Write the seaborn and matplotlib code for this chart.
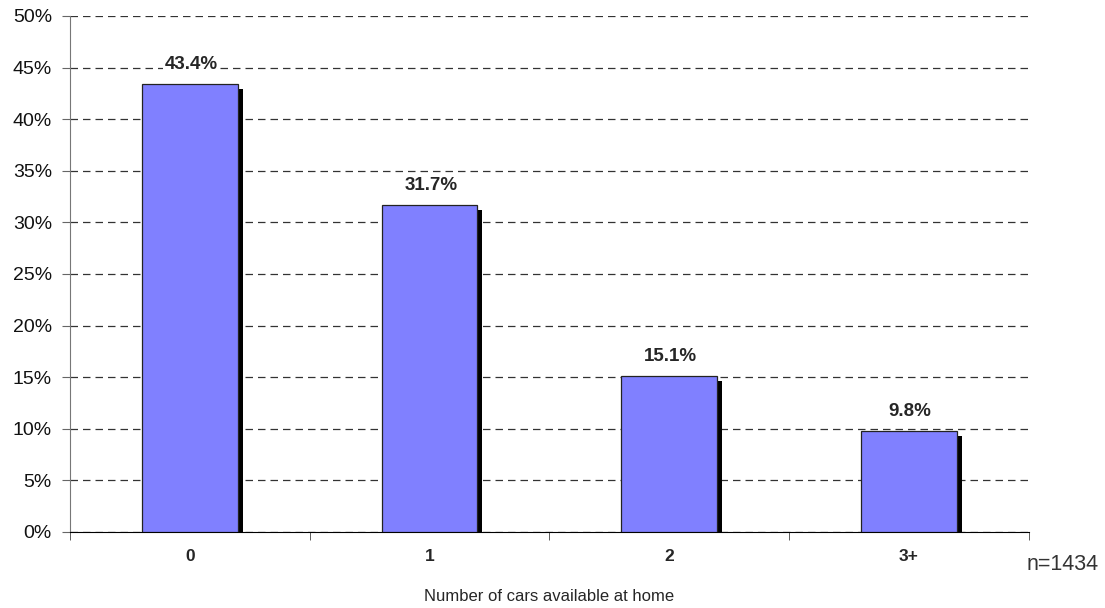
import matplotlib
matplotlib.use("Agg")
import matplotlib.pyplot as plt
import matplotlib.patheffects as pe
import seaborn as sns
import pandas as pd

# data
cars = ['0', '1', '2', '3+']
share = [43.4, 31.7, 15.1, 9.8]
y_ticks = [0, 5, 10, 15, 20, 25, 30, 35, 40, 45, 50]

df = pd.DataFrame({'cars': cars, 'share': share})

sns.set_style('white')
plt.rcParams['font.family'] = ['Liberation Sans', 'DejaVu Sans']

fig = plt.figure(figsize=(11.05, 6.08), dpi=100)
ax = fig.add_axes([0.0633, 0.125, 0.8677, 0.8487])

sns.barplot(data=df, x='cars', y='share', color='#8080FF', saturation=1,
            width=0.4, edgecolor='#222222', linewidth=0.9, ax=ax, zorder=3)

# drop shadow to the right / below each bar
for p in ax.patches:
    p.set_path_effects([pe.SimplePatchShadow(offset=(3.5, -3.5), shadow_rgbFace='black', alpha=1),
                        pe.Normal()])

# value labels, white box hides the gridline behind them
for i, v in enumerate(share):
    ax.annotate(f'{v:.1f}%', (i, v), xytext=(1, 8), textcoords='offset points',
                ha='center', va='bottom', fontsize=13.5, fontweight='bold', zorder=4,
                bbox=dict(facecolor='white', edgecolor='none', pad=1.5))

ax.set_ylim(0, 50)
ax.set_xlim(-0.5, 3.5)
ax.set_yticks(y_ticks)
ax.set_yticklabels([f'{t}%' for t in y_ticks], fontsize=14, color='#111111')
ax.set_xticks(range(len(cars)))
ax.set_xticklabels(cars, fontsize=12.5, fontweight='bold')
ax.set_xticks([-0.5, 0.5, 1.5, 2.5, 3.5], minor=True)
ax.tick_params(axis='x', which='both', bottom=True)
ax.tick_params(axis='y', which='major', left=True)
ax.tick_params(axis='x', which='major', length=0, pad=12)
ax.tick_params(axis='x', which='minor', length=6, direction='out', color='#444444')
ax.tick_params(axis='y', length=6, direction='out', color='#666666', pad=7)

ax.yaxis.grid(True, linestyle=(0, (6, 4)), color='#333333', linewidth=0.9, zorder=0)
ax.set_axisbelow(True)

for s in ['top', 'right']:
    ax.spines[s].set_visible(False)
ax.spines['left'].set_color('#777777')
ax.spines['bottom'].set_color('black')

ax.set_xlabel('Number of cars available at home', fontsize=12, labelpad=18)
ax.set_ylabel('')

fig.text(0.994, 1 - 565 / 608, 'n=1434', fontsize=15.5, ha='right', va='center',
         family=['Liberation Sans Narrow', 'Liberation Sans', 'DejaVu Sans'], color='#333333')

fig.savefig('out.png', dpi=100)
